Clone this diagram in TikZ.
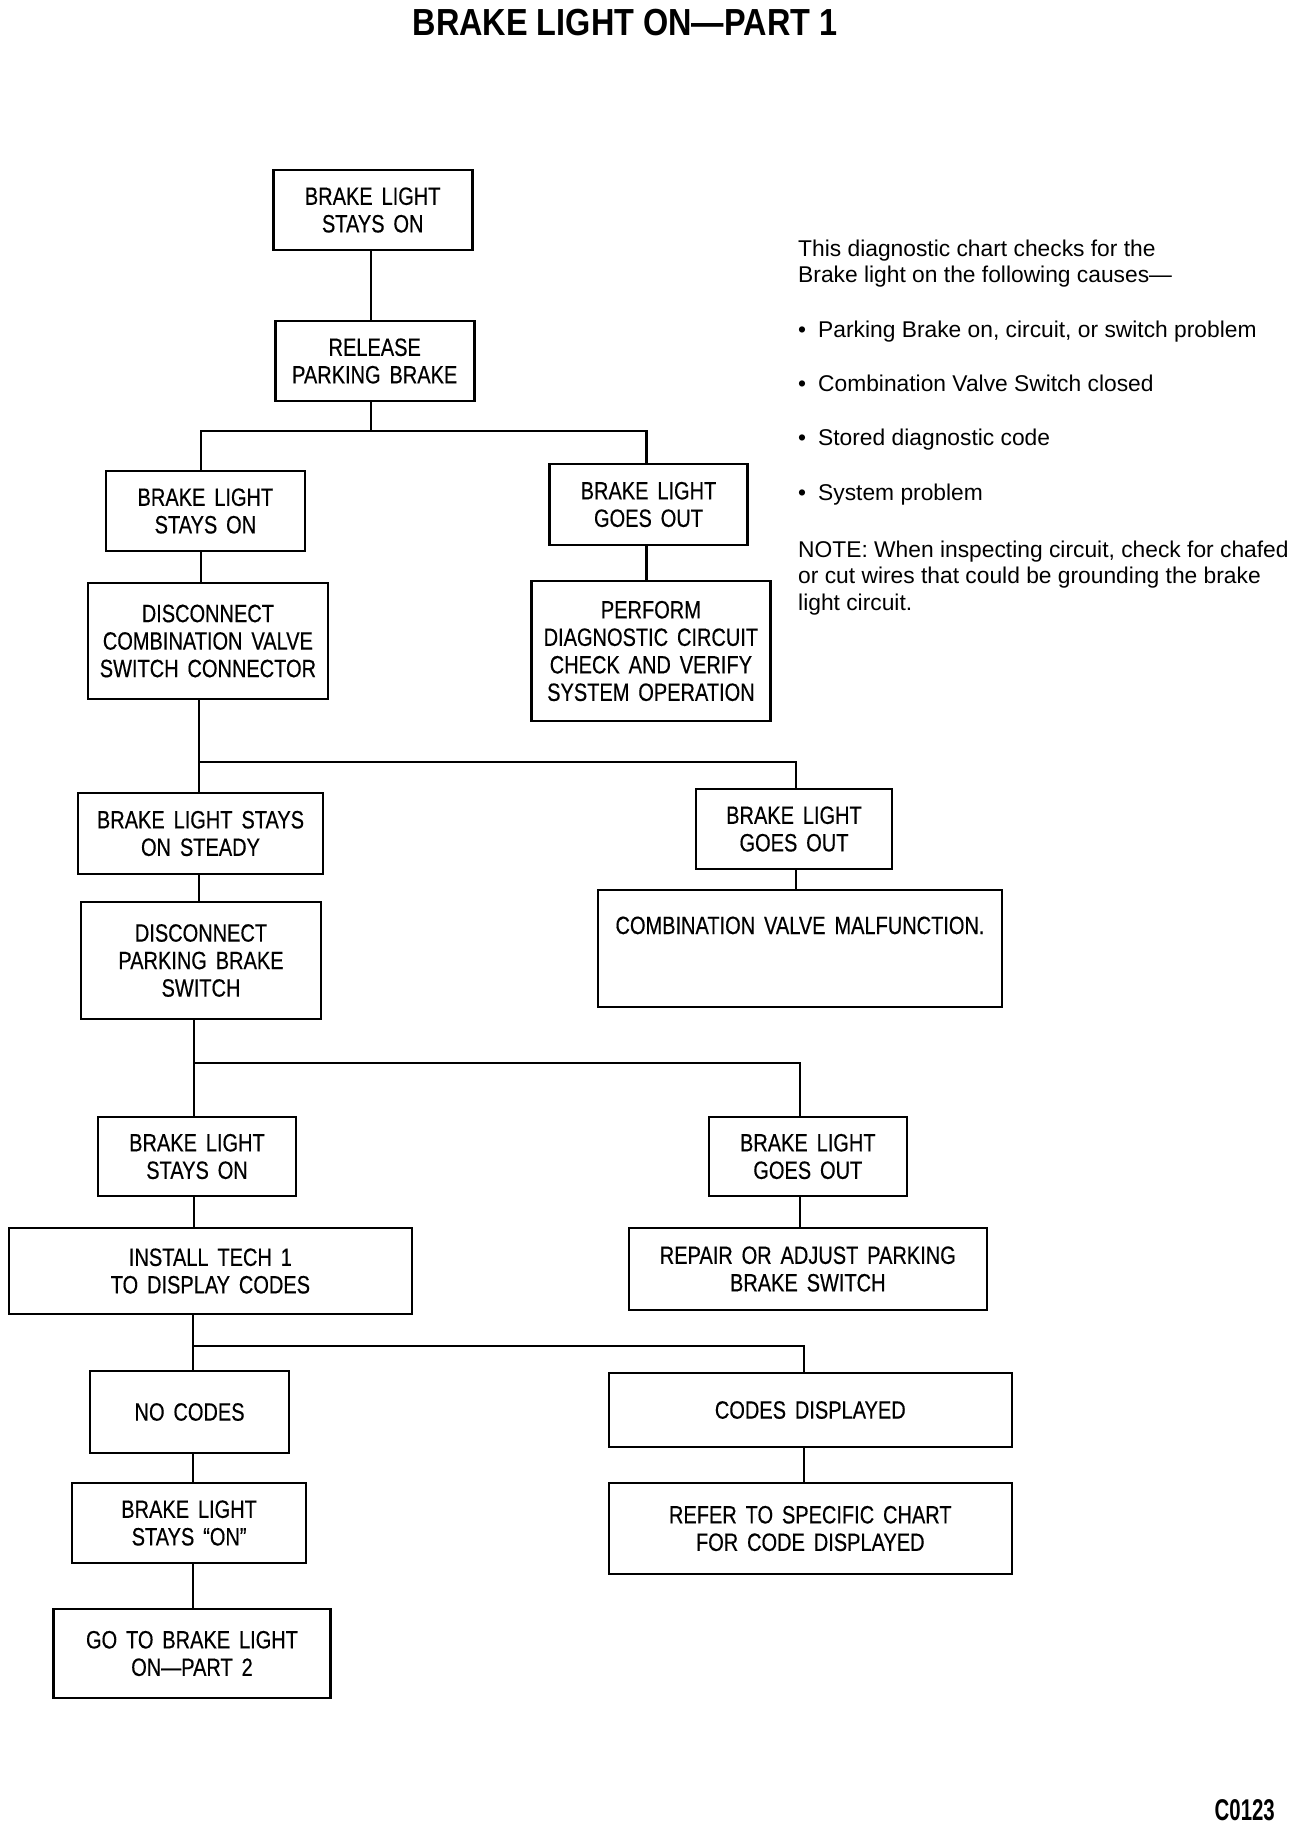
\documentclass[tikz,border=0pt]{standalone}
\usepackage{fontspec}
\setmainfont{Liberation Sans}
\newfontfamily\boxfont{Liberation Sans}[FakeStretch=0.8, WordSpace=1.6, FakeBold=0.4]
\newfontfamily\titlefont{Liberation Sans}[FakeStretch=0.86]
\newfontfamily\codefont{Liberation Sans}[FakeStretch=0.68]
\begin{document}
\begin{tikzpicture}[x=1pt,y=-1pt,
  chartbox/.style={draw, rectangle, line width=2.6pt, inner sep=0pt, outer sep=0pt,
    align=center, font=\boxfont\fontsize{25}{27.5}\selectfont},
  conn/.style={line width=2.4pt},
  notetext/.style={anchor=base west, align=left, inner sep=0pt}]
\fill[white] (0,0) rectangle (1296,1826);
\useasboundingbox (0,0) rectangle (1296,1826);

\node (title) [anchor=base, inner sep=0pt, font=\titlefont\bfseries\fontsize{37.7}{40}\selectfont] at (625,35) {BRAKE LIGHT ON—PART 1};

% boxes
\node (b1) [chartbox, minimum width=199pt, minimum height=80pt] at (372.7,210) {BRAKE LIGHT\\STAYS ON};
\node (b2) [chartbox, minimum width=199pt, minimum height=80pt] at (374.7,361) {RELEASE\\PARKING BRAKE};
\node (b3) [chartbox, minimum width=199pt, minimum height=80pt] at (205.4,511) {BRAKE LIGHT\\STAYS ON};
\node (b4) [chartbox, minimum width=198pt, minimum height=81pt] at (648.5,504.5) {BRAKE LIGHT\\GOES OUT};
\node (b5) [chartbox, minimum width=240pt, minimum height=116pt] at (207.9,641) {DISCONNECT\\COMBINATION VALVE\\SWITCH CONNECTOR};
\node (b6) [chartbox, minimum width=239pt, minimum height=140pt] at (650.9,651) {PERFORM\\DIAGNOSTIC CIRCUIT\\CHECK AND VERIFY\\SYSTEM OPERATION};
\node (b7) [chartbox, minimum width=245pt, minimum height=81pt] at (200.5,833.5) {BRAKE LIGHT STAYS\\ON STEADY};
\node (b8) [chartbox, minimum width=196pt, minimum height=80pt] at (794,829) {BRAKE LIGHT\\GOES OUT};
\node (b9) [chartbox, minimum width=404pt, inner ysep=8pt, text height=36pt, text depth=65pt, anchor=north] at (800,890) {COMBINATION VALVE MALFUNCTION.};
\node (b10) [chartbox, minimum width=240pt, minimum height=117pt] at (201,960.5) {DISCONNECT\\PARKING BRAKE\\SWITCH};
\node (b11) [chartbox, minimum width=198pt, minimum height=79pt] at (197,1156.5) {BRAKE LIGHT\\STAYS ON};
\node (b12) [chartbox, minimum width=198pt, minimum height=79pt] at (807.8,1156.5) {BRAKE LIGHT\\GOES OUT};
\node (b13) [chartbox, minimum width=403pt, minimum height=86pt] at (210.4,1271) {INSTALL TECH 1\\TO DISPLAY CODES};
\node (b14) [chartbox, minimum width=358pt, minimum height=82pt] at (807.8,1269) {REPAIR OR ADJUST PARKING\\BRAKE SWITCH};
\node (b15) [chartbox, minimum width=199pt, minimum height=82pt] at (189.6,1412) {NO CODES};
\node (b16) [chartbox, minimum width=403pt, minimum height=74pt] at (810.3,1410) {CODES DISPLAYED};
\node (b17) [chartbox, minimum width=234pt, minimum height=80pt] at (189.1,1523) {BRAKE LIGHT\\STAYS “ON”};
\node (b18) [chartbox, minimum width=403pt, minimum height=91pt] at (810.3,1528.5) {REFER TO SPECIFIC CHART\\FOR CODE DISPLAYED};
\node (b19) [chartbox, minimum width=277pt, minimum height=89pt] at (192,1653.5) {GO TO BRAKE LIGHT\\ON—PART 2};

% junction coordinates
\coordinate (j1) at (371,431);
\coordinate (j1l) at (201,431);
\coordinate (j1r) at (646.5,431);
\coordinate (j2l) at (199,762);
\coordinate (j2r) at (796,762);
\coordinate (j3l) at (194,1063);
\coordinate (j3r) at (800,1063);
\coordinate (j4l) at (193,1346);
\coordinate (j4r) at (804,1346);

% connectors
\draw[conn] (b1.south -| j1) -- (b2.north -| j1);
\draw[conn] (b2.south -| j1) -- (j1);
\draw[conn] (b3.north -| j1l) -- (j1l) -- (j1r) -- (b4.north -| j1r);
\draw[conn] (b3.south -| j1l) -- (b5.north -| j1l);
\draw[conn] (b4.south -| j1r) -- (b6.north -| j1r);

\draw[conn] (b5.south -| j2l) -- (j2l) -- (j2r) -- (b8.north -| j2r);
\draw[conn] (j2l) -- (b7.north -| j2l);
\draw[conn] (b7.south -| j2l) -- (b10.north -| j2l);
\draw[conn] (b8.south -| j2r) -- (b9.north -| j2r);

\draw[conn] (b10.south -| j3l) -- (j3l) -- (j3r) -- (b12.north -| j3r);
\draw[conn] (j3l) -- (b11.north -| j3l);
\draw[conn] (b11.south -| j3l) -- (b13.north -| j3l);
\draw[conn] (b12.south -| j3r) -- (b14.north -| j3r);

\draw[conn] (b13.south -| j4l) -- (j4l) -- (j4r) -- (b16.north -| j4r);
\draw[conn] (j4l) -- (b15.north -| j4l);
\draw[conn] (b15.south -| j4l) -- (b17.north -| j4l);
\draw[conn] (b17.south -| j4l) -- (b19.north -| j4l);
\draw[conn] (b16.south -| j4r) -- (b18.north -| j4r);

% side notes (base = baseline of last line)
\node (intro) [notetext, font=\fontsize{22.8}{25.5}\selectfont] at (798,282)
  {This diagnostic chart checks for the\\Brake light on the following causes—};
\node (causes) [notetext, font=\fontsize{22.8}{54.3}\selectfont] at (798,500)
  {•\hspace{12pt}Parking Brake on, circuit, or switch problem\\
   •\hspace{12pt}Combination Valve Switch closed\\
   •\hspace{12pt}Stored diagnostic code\\
   •\hspace{12pt}System problem};
\node (note) [notetext, font=\fontsize{22.8}{26.5}\selectfont] at (798,610)
  {NOTE: When inspecting circuit, check for chafed\\or cut wires that could be grounding the brake\\light circuit.};

\node (code) [anchor=base east, inner sep=0pt, font=\codefont\bfseries\fontsize{30}{32}\selectfont] at (1275,1820) {C0123};
\end{tikzpicture}
\end{document}
